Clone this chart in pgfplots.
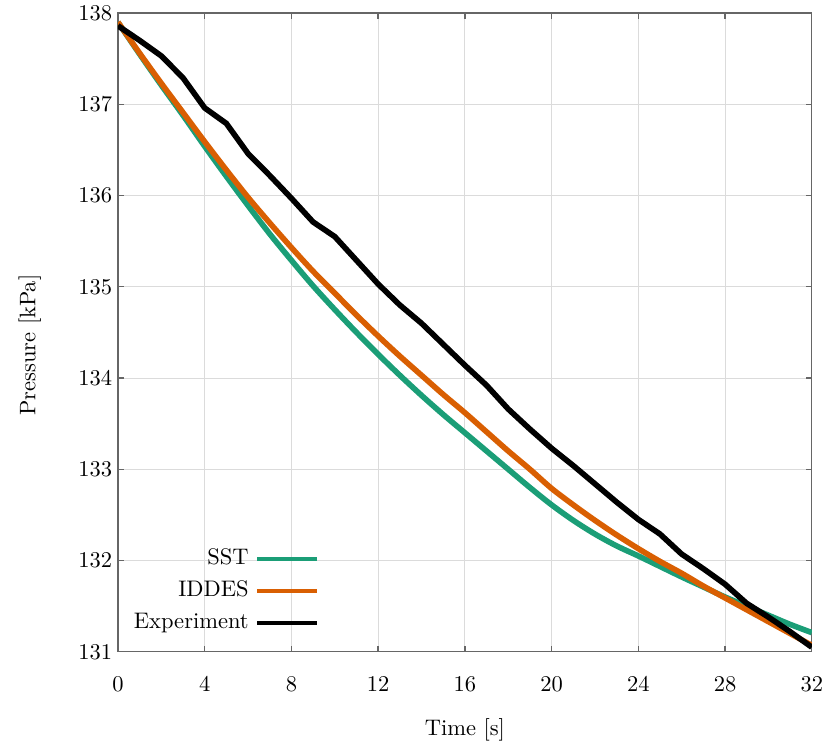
\documentclass[border=0pt]{standalone}
\usepackage{pgfplots}
\pgfplotsset{compat=1.18}

\definecolor{sstgreen}{HTML}{1B9E77}
\definecolor{iddesorange}{HTML}{D95F02}
\definecolor{framegray}{HTML}{666666}

\begin{document}
\begin{tikzpicture}
\begin{axis}[
    name=ax,
    scale only axis,
    width=308.3pt, height=283.8pt,
    xmin=0, xmax=32, ymin=131, ymax=138,
    xtick={0,4,...,32}, ytick={131,132,...,138},
    grid=major,
    major grid style={draw=black!14, line width=0.45pt},
    axis line style={draw=framegray, line width=0.6pt},
    tick style={draw=framegray, line width=0.6pt},
    tick align=inside, major tick length=2.7pt,
    xticklabel style={yshift=-7.5pt},
    yticklabel style={xshift=1pt},
    xlabel={Time [s]}, ylabel={Pressure [kPa]},
    every axis x label/.style={at={(axis description cs:0.5,-0.123)}, anchor=center},
    every axis y label/.style={at={(axis description cs:-0.127,0.48)}, rotate=90, anchor=center},
    legend plot pos=right,
    legend cell align=right,
    legend image code/.code={\draw[#1, line width=1.8pt] (0pt,0pt) -- (26.7pt,0pt);},
    legend style={at={(axis description cs:0.291,0.0186)}, anchor=south east,
        draw=none, fill=none, inner sep=0pt, row sep=-0.7pt,
        nodes={inner sep=2.9pt, text height=7pt, text depth=2pt}},
]
% SST
\addplot[sstgreen, line width=2.5pt, smooth] coordinates {
(0,137.90) (1,137.55) (2,137.21) (3,136.88) (4,136.54) (5,136.21) (6,135.89)
(7,135.58) (8,135.29) (9,135.01) (10,134.75) (11,134.50) (12,134.26) (13,134.03)
(14,133.81) (15,133.60) (16,133.40) (17,133.20) (18,133.00) (19,132.80) (20,132.61)
(21,132.44) (22,132.29) (23,132.16) (24,132.05) (25,131.935) (26,131.82) (27,131.71)
(28,131.60) (29,131.50) (30,131.40) (31,131.30) (32,131.21)};
\addlegendentry{SST}
% IDDES
\addplot[iddesorange, line width=2.5pt, smooth] coordinates {
(0,137.90) (1,137.56) (2,137.23) (3,136.91) (4,136.59) (5,136.28) (6,135.98)
(7,135.70) (8,135.43) (9,135.17) (10,134.93) (11,134.69) (12,134.46) (13,134.24)
(14,134.03) (15,133.82) (16,133.62) (17,133.41) (18,133.20) (19,133.00) (20,132.79)
(21,132.61) (22,132.44) (23,132.28) (24,132.13) (25,131.99) (26,131.86) (27,131.72)
(28,131.59) (29,131.46) (30,131.33) (31,131.20) (32,131.07)};
\addlegendentry{IDDES}
% Experiment
\addplot[black, line width=2.5pt] coordinates {
(0,137.86) (1,137.70) (2,137.53) (3,137.29) (4,136.96) (5,136.79) (6,136.46)
(7,136.22) (8,135.97) (9,135.71) (10,135.55) (11,135.29) (12,135.03) (13,134.80)
(14,134.60) (15,134.37) (16,134.14) (17,133.92) (18,133.66) (19,133.44) (20,133.23)
(21,133.04) (22,132.84) (23,132.64) (24,132.45) (25,132.29) (26,132.07) (27,131.91)
(28,131.74) (29,131.53) (30,131.38) (31,131.22) (32,131.05)};
\addlegendentry{Experiment}
\end{axis}
\pgfresetboundingbox
\path[use as bounding box] ([shift={(-52.4pt,-41.1pt)}]ax.south west) rectangle ([shift={(316.4pt,289.6pt)}]ax.south west);
\end{tikzpicture}
\end{document}
